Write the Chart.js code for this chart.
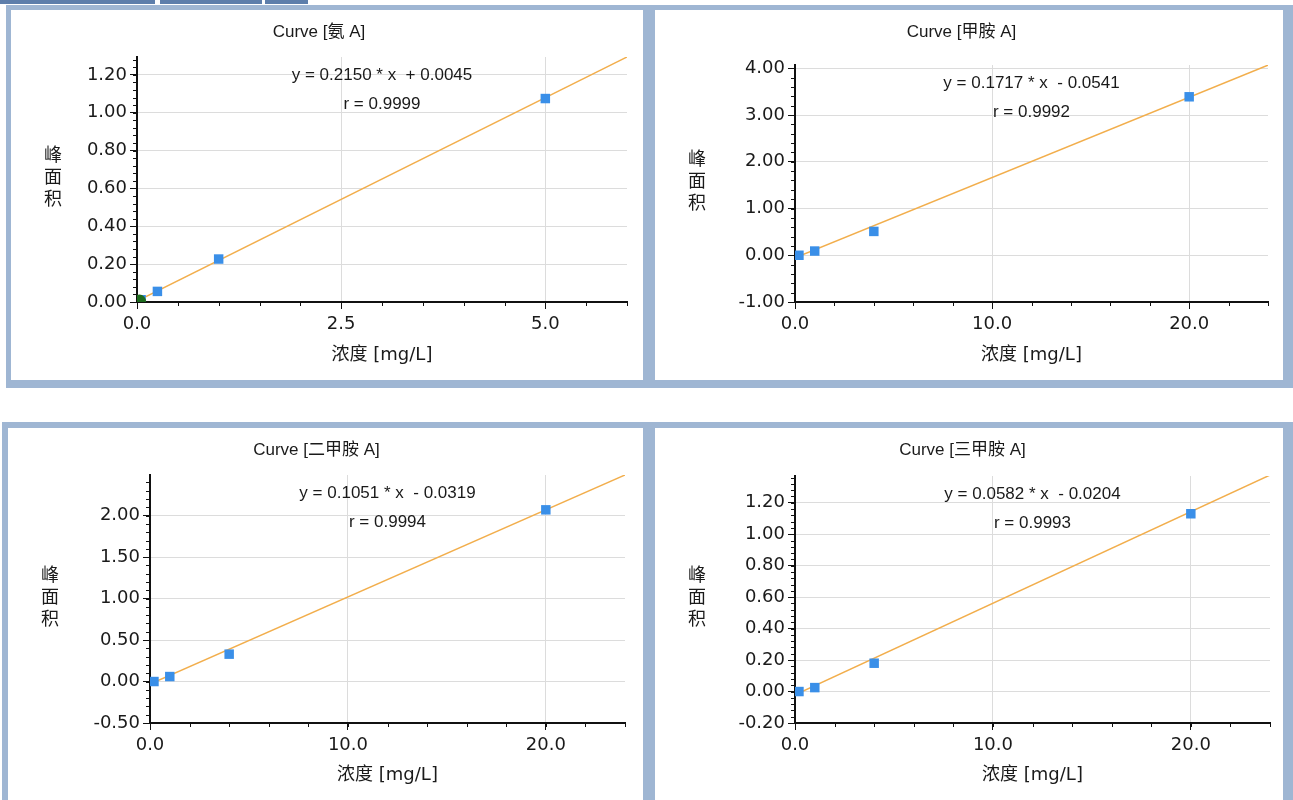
<!DOCTYPE html>
<html>
<head>
<meta charset="utf-8">
<script src="https://cdn.jsdelivr.net/npm/chart.js@4.4.1/dist/chart.umd.min.js"></script>
<style>
  body { margin: 0; background: #fff; width: 1293px; height: 800px; overflow: hidden; position: relative; }
  .frame { position: absolute; background: #9fb6d3; }
  .tab { position: absolute; top: 0; height: 4px; background: #5d7eab; }
  canvas { position: absolute; background: #fff; }
</style>
</head>
<body>
<div class="tab" style="left:0;width:155px"></div>
<div class="tab" style="left:160px;width:102px"></div>
<div class="tab" style="left:265px;width:43px"></div>
<div class="frame" style="left:6px;top:5px;width:1287px;height:383px"></div>
<div class="frame" style="left:2px;top:422px;width:1291px;height:378px"></div>
<canvas id="c0" width="632" height="370" style="left:11px;top:10px"></canvas>
<canvas id="c1" width="628" height="370" style="left:655px;top:10px"></canvas>
<canvas id="c2" width="635" height="372" style="left:8px;top:428px"></canvas>
<canvas id="c3" width="628" height="372" style="left:655px;top:428px"></canvas>
<script>
// texts
const titles = ["Curve [氨 A]", "Curve [甲胺 A]", "Curve [二甲胺 A]", "Curve [三甲胺 A]"];
const equations = ["y = 0.2150 * x  + 0.0045", "y = 0.1717 * x  - 0.0541", "y = 0.1051 * x  - 0.0319", "y = 0.0582 * x  - 0.0204"];
const rValues = ["r = 0.9999", "r = 0.9992", "r = 0.9994", "r = 0.9993"];
const xTitle = "浓度 [mg/L]";
const yTitle = ["峰", "面", "积"];

// calibration points (concentration, peak area)
const ammoniaX = [0.05, 0.25, 1.0, 5.0];
const ammoniaY = [0.012, 0.056, 0.227, 1.075];
const methylX = [0.2, 1.0, 4.0, 20.0];
const methylY = [0.0, 0.09, 0.51, 3.39];
const dimethylX = [0.2, 1.0, 4.0, 20.0];
const dimethylY = [0.0, 0.06, 0.33, 2.07];
const trimethylX = [0.2, 1.0, 4.0, 20.0];
const trimethylY = [0.0, 0.025, 0.18, 1.13];

// sample marker (ammonia only)
const sampleX = [0.03];
const sampleY = [0.005];

// fitted line end points as drawn
const lineX = [[0, 6], [0, 24], [0, 24], [0, 24]];
const lineY = [[0.0045, 1.2945], [-0.0541, 4.067], [-0.0319, 2.49], [-0.0204, 1.376]];

// axes
const xMax = [6, 24, 24, 24];
const xStep = [2.5, 10, 10, 10];
const xMinor = [0.5, 2, 2, 2];
const yMin = [0, -1, -0.5, -0.2];
const yMax = [1.2945, 4.07, 2.49, 1.37];
const yStep = [0.2, 1, 0.5, 0.2];
const yMinor = [0.04, 0.2, 0.1, 0.04];

// plot area inside each canvas
const boxes = [
  { w: 632, h: 370, left: 126, top: 47, right: 616, bottom: 292 },
  { w: 628, h: 370, left: 140, top: 55, right: 613, bottom: 292 },
  { w: 635, h: 372, left: 142, top: 47, right: 617, bottom: 295 },
  { w: 628, h: 372, left: 140, top: 48, right: 615, bottom: 295 }
];

const pointSets = [[ammoniaX, ammoniaY], [methylX, methylY], [dimethylX, dimethylY], [trimethylX, trimethylY]];

const zip = (xs, ys) => xs.map((x, i) => ({ x: x, y: ys[i] }));

const extras = {
  id: "extras",
  afterDraw(chart, args, o) {
    const ctx = chart.ctx, a = chart.chartArea;
    const xs = chart.scales.x, ys = chart.scales.y;
    ctx.save();
    // minor ticks
    ctx.strokeStyle = "#111";
    ctx.lineWidth = 1;
    ctx.beginPath();
    for (let k = Math.ceil(ys.min / o.yMinor - 1e-6); k * o.yMinor <= ys.max + 1e-9; k++) {
      const p = Math.round(ys.getPixelForValue(k * o.yMinor)) + 0.5;
      ctx.moveTo(a.left - 4, p);
      ctx.lineTo(a.left, p);
    }
    for (let k = Math.ceil(xs.min / o.xMinor - 1e-6); k * o.xMinor <= xs.max + 1e-9; k++) {
      const p = Math.round(xs.getPixelForValue(k * o.xMinor)) + 0.5;
      ctx.moveTo(p, a.bottom);
      ctx.lineTo(p, a.bottom + 4);
    }
    ctx.stroke();
    // equation
    ctx.fillStyle = "#1a1a1a";
    ctx.textAlign = "center";
    ctx.textBaseline = "middle";
    ctx.font = "17px 'Liberation Sans'";
    const cx = (a.left + a.right) / 2;
    ctx.fillText(o.eq, cx, a.top + 18);
    ctx.fillText(o.r, cx, a.top + 47);
    // stacked y title
    ctx.font = "18px 'Noto Sans CJK SC'";
    const mid = (a.top + a.bottom) / 2 - 3;
    yTitle.forEach((c, i) => ctx.fillText(c, 42, mid + (i - 1) * 22));
    ctx.restore();
  }
};

for (let i = 0; i < 4; i++) {
  const b = boxes[i];
  const datasets = [];
  if (i === 0) {
    datasets.push({
      data: zip(sampleX, sampleY),
      pointStyle: "circle",
      pointRadius: 6.5,
      pointBackgroundColor: "#1d6b1d",
      pointBorderWidth: 0
    });
  }
  datasets.push({
    data: zip(pointSets[i][0], pointSets[i][1]),
    pointStyle: "rect",
    pointRadius: 6.7,
    pointBackgroundColor: "#3a8fe8",
    pointBorderWidth: 0
  });
  datasets.push({
    data: zip(lineX[i], lineY[i]),
    showLine: true,
    borderColor: "#f2ae4c",
    borderWidth: 1.5,
    pointRadius: 0
  });

  new Chart(document.getElementById("c" + i), {
    type: "scatter",
    data: { datasets: datasets },
    options: {
      responsive: false,
      animation: false,
      events: [],
      layout: { padding: { left: 0, right: b.w - b.right, top: 0, bottom: 0 } },
      plugins: {
        legend: { display: false },
        tooltip: { enabled: false },
        title: {
          display: true,
          text: titles[i],
          color: "#1a1a1a",
          font: { family: "'Liberation Sans', 'Noto Sans CJK SC'", size: 17, weight: "normal" },
          padding: { top: 12, bottom: b.top - 20.4 - 12 }
        },
        extras: { eq: equations[i], r: rValues[i], xMinor: xMinor[i], yMinor: yMinor[i] }
      },
      scales: {
        x: {
          type: "linear",
          min: 0,
          max: xMax[i],
          afterFit: s => { s.height = b.h - b.bottom; },
          border: { color: "#111", width: 2 },
          grid: { color: "#dcdcdc", tickColor: "#111", tickLength: 7 },
          ticks: {
            stepSize: xStep[i],
            includeBounds: false,
            maxRotation: 0,
            padding: 5,
            color: "#1a1a1a",
            font: { family: "'DejaVu Sans'", size: 18 },
            callback: v => v.toFixed(1)
          },
          title: {
            display: true,
            text: xTitle,
            color: "#1a1a1a",
            font: { family: "'DejaVu Sans', 'Noto Sans CJK SC'", size: 18 },
            padding: { top: 0, bottom: 14 }
          }
        },
        y: {
          type: "linear",
          min: yMin[i],
          max: yMax[i],
          afterFit: s => { s.width = b.left; },
          border: { color: "#111", width: 2 },
          grid: { color: "#dcdcdc", tickColor: "#111", tickLength: 7 },
          ticks: {
            stepSize: yStep[i],
            includeBounds: false,
            padding: 3,
            color: "#1a1a1a",
            font: { family: "'DejaVu Sans'", size: 18 },
            callback: v => v.toFixed(2)
          }
        }
      }
    },
    plugins: [extras]
  });
}
</script>
</body>
</html>
